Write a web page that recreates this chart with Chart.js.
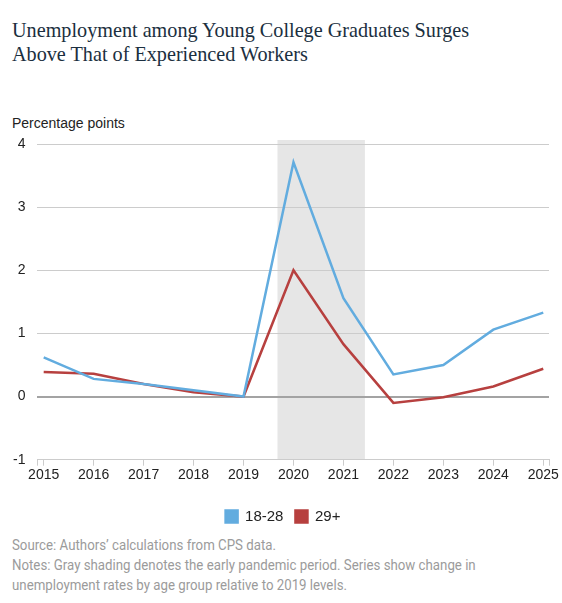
<!DOCTYPE html>
<html>
<head>
<meta charset="utf-8">
<script src="https://cdn.jsdelivr.net/npm/chart.js@4"></script>
<style>
  html, body { margin: 0; padding: 0; background: #fff; }
  body { width: 562px; height: 603px; position: relative; overflow: hidden; }
  #title {
    position: absolute; left: 12px; top: 18px;
    font-family: "Liberation Serif", serif; font-size: 20.2px; line-height: 24px;
    color: #1b2f40;
  }
  #unit {
    position: absolute; left: 12px; top: 114px;
    font-family: "Liberation Sans", Arial, sans-serif; font-size: 14px; line-height: 18px;
    color: #222;
  }
  #wrap { position: absolute; left: 0; top: 100px; width: 562px; height: 434px; }
  #notes {
    position: absolute; left: 12px; top: 535px;
    font-family: Roboto, sans-serif; font-size: 15px; line-height: 20px;
    color: #9b9b9b; white-space: nowrap; transform-origin: 0 0;
  }
</style>
</head>
<body>
<div id="title">Unemployment among Young College Graduates Surges<br>Above That of Experienced Workers</div>
<div id="unit">Percentage points</div>
<div id="wrap"><canvas id="myChart"></canvas></div>
<div id="notes"><span id="src">Source: Authors’ calculations from CPS data.</span><br>Notes: Gray shading denotes the early pandemic period. Series show change in<br>unemployment rates by age group relative to 2019 levels.</div>

<script>
const years = [2015, 2016, 2017, 2018, 2019, 2020, 2021, 2022, 2023, 2024, 2025];
const young = [0.62, 0.28, 0.20, 0.10, 0.00, 3.71, 1.56, 0.35, 0.50, 1.06, 1.33];
const older = [0.39, 0.36, 0.20, 0.07, 0.00, 2.00, 0.83, -0.10, -0.01, 0.16, 0.44];
const seriesNames = ['18-28', '29+'];
const yTicks = [-1, 0, 1, 2, 3, 4];
const shadeFrom = 2019.68;
const shadeTo = 2021.43;

const xMin = 2014.875, xMax = 2025.115;

// condense the footer like the original narrow font
const srcW = document.getElementById('src').getBoundingClientRect().width;
document.getElementById('notes').style.transform = `scaleX(${264 / srcW})`;

const shading = {
    id: 'shading',
    beforeDraw(chart) {
        const { ctx, chartArea, scales } = chart;
        const x1 = scales.x.getPixelForValue(shadeFrom);
        const x2 = scales.x.getPixelForValue(shadeTo);
        ctx.save();
        ctx.fillStyle = '#e6e6e6';
        ctx.fillRect(x1, chartArea.top - 4, x2 - x1, chartArea.bottom - chartArea.top + 4);
        ctx.restore();
    }
};

// legend in the original sits a bit right of centre
const legendShift = {
    id: 'legendShift',
    afterLayout(chart) {
        if (chart.legend) {
            chart.legend.left += 8;
            chart.legend.right += 8;
        }
    }
};

const font = { family: '"Liberation Sans", Arial, sans-serif', size: 14 };

const ctx = document.getElementById('myChart').getContext('2d');
new Chart(ctx, {
    type: 'line',
    data: {
        datasets: [{
            label: seriesNames[0],
            data: years.map((y, i) => ({ x: y, y: young[i] })),
            borderColor: '#62acdf',
            backgroundColor: '#62acdf',
            borderWidth: 2.5,
            pointRadius: 0,
            tension: 0
        }, {
            label: seriesNames[1],
            data: years.map((y, i) => ({ x: y, y: older[i] })),
            borderColor: '#b7403f',
            backgroundColor: '#b7403f',
            borderWidth: 2.5,
            pointRadius: 0,
            tension: 0
        }]
    },
    options: {
        responsive: true,
        maintainAspectRatio: false,
        animation: false,
        layout: { padding: { top: 44, left: 1, right: 13, bottom: 0 } },
        plugins: {
            tooltip: { enabled: false },
            legend: {
                position: 'bottom',
                labels: {
                    boxWidth: 12, boxHeight: 12, padding: 12,
                    color: '#222',
                    font: { family: font.family, size: 15 }
                }
            }
        },
        scales: {
            x: {
                type: 'linear',
                min: xMin,
                max: xMax,
                afterBuildTicks(scale) {
                    scale.ticks = [xMin, ...years, xMax].map(v => ({ value: v }));
                },
                afterFit(scale) { scale.height += 12.5; },
                ticks: {
                    autoSkip: false, maxRotation: 0, padding: 1,
                    color: '#222', font,
                    callback: v => Number.isInteger(v) ? String(v) : ''
                },
                grid: { drawOnChartArea: false, drawTicks: true, tickLength: 6, color: '#cccccc' },
                border: { display: true, color: '#cccccc' }
            },
            y: {
                min: -1,
                max: 4,
                afterBuildTicks(scale) {
                    scale.ticks = yTicks.map(v => ({ value: v }));
                },
                ticks: { padding: 12, color: '#222', font },
                grid: {
                    drawTicks: false,
                    color: c => c.tick && c.tick.value === 0 ? '#a3a3a3' : '#cccccc',
                    lineWidth: c => c.tick && c.tick.value === 0 ? 2 : 1
                },
                border: { display: false }
            }
        }
    },
    plugins: [shading, legendShift]
});
</script>
</body>
</html>
